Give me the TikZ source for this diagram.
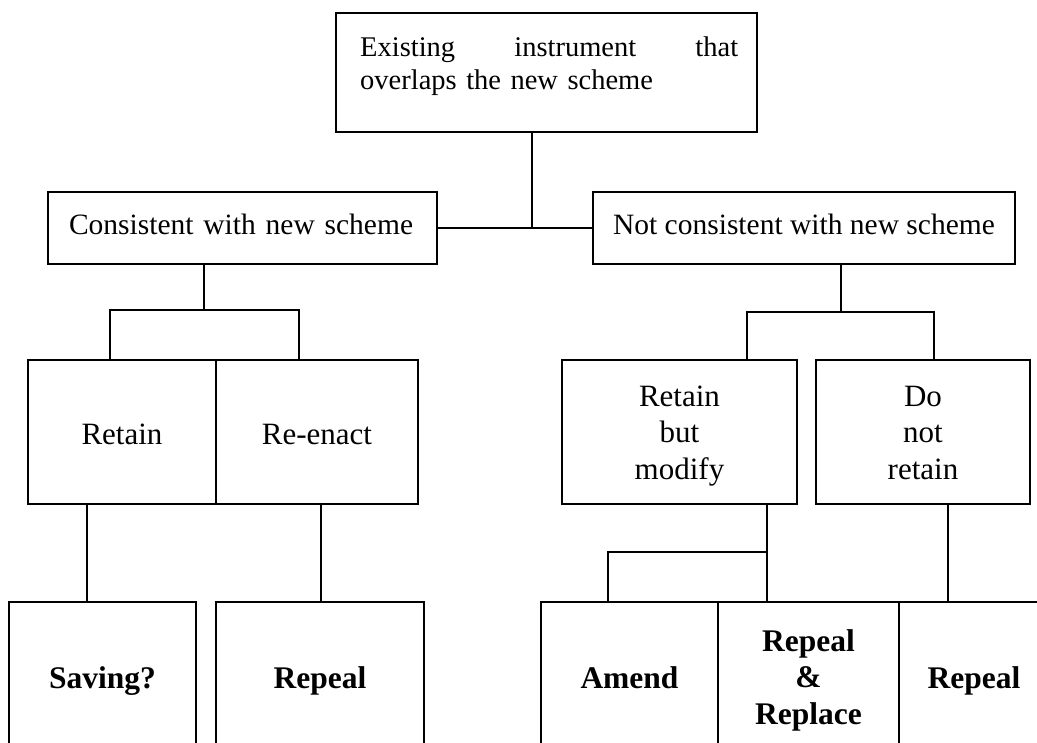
\documentclass[tikz,border=0pt]{standalone}
\usepackage{fontspec}
\setmainfont{Liberation Serif}
\newcommand{\firststrut}{\rule{0pt}{28.5pt}}
\begin{document}
\begin{tikzpicture}[x=1pt,y=-1pt,
  box/.style={draw, line width=1.8pt, inner sep=0pt, align=center,
              font=\fontsize{31}{36.5}\selectfont},
  wide/.style={box, font=\fontsize{29.5}{34}\selectfont, text height=20pt, text depth=6pt},
  single/.style={text height=32pt, text depth=6pt},
  bbox/.style={box, font=\fontsize{31.5}{36.5}\selectfont\bfseries},
  bsingle/.style={text height=22pt, text depth=6pt},
  conn/.style={line width=1.8pt},
  txt/.style={inner sep=0pt}]
\useasboundingbox (0,0) rectangle (1037,743);
\clip (0,0) rectangle (1037,743);

% level 0
\node[box, minimum width=421pt, minimum height=119pt] (top) at (546.5,72.5) {};
\node[txt, anchor=base west, font=\fontsize{28.5}{33}\selectfont, text width=378pt, align=left] (toptext) at (360,57)
  {\hbox to 378pt{Existing\hfill instrument\hfill that}\\overlaps the new scheme};

% level 1
\node[wide, minimum width=389pt, minimum height=72pt, inner xsep=21pt, text width=347pt, align=left] (cons) at (242.5,228)
  {\makebox[347pt][l]{Consistent with new scheme}};
\node[wide, minimum width=422pt, minimum height=72pt] (notc) at (804,228) {Not consistent with new scheme};

% level 2
\node[box, single, minimum width=188pt, minimum height=144pt] (retain) at (122,432) {Retain};
\node[box, single, minimum width=202pt, minimum height=144pt] (reenact) at (317,432) {Re-enact};
\node[box, minimum width=235pt, minimum height=144pt] (rbm) at (679.5,432) {\firststrut Retain\\but\\modify};
\node[box, minimum width=214pt, minimum height=144pt] (dnr) at (923,432) {\firststrut Do\\not\\retain\vphantom{y}};

% level 3
\node[bbox, bsingle, minimum width=187pt, minimum height=156pt] (saving) at (102.5,680) {Saving?};
\node[bbox, bsingle, minimum width=208pt, minimum height=156pt] (repealA) at (320,680) {Repeal};
\node[bbox, bsingle, minimum width=177pt, minimum height=156pt] (amend) at (629.5,680) {Amend};
\node[bbox, minimum width=181pt, minimum height=156pt] (rr) at (808.5,680) {Repeal\\\&\\Replace};
\node[bbox, bsingle, minimum width=150pt, minimum height=156pt] (repealB) at (974,680) {Repeal};

% junction coordinates
\coordinate (j1) at (532,228);
\coordinate (j2) at (204,310);
\coordinate (a1) at (110,310);
\coordinate (a2) at (299,310);
\coordinate (j3) at (841,312);
\coordinate (b1) at (747,312);
\coordinate (b2) at (934,312);
\coordinate (c1) at (87,0);
\coordinate (c2) at (321,0);
\coordinate (d1) at (767,552);
\coordinate (d0) at (608,552);
\coordinate (e1) at (948,0);

% connectors
\draw[conn] (top.south -| j1) -- (j1);
\draw[conn] (cons.east) -- (notc.west);
\draw[conn] (cons.south -| j2) -- (j2);
\draw[conn] (retain.north -| a1) -- (a1) -- (a2) -- (reenact.north -| a2);
\draw[conn] (notc.south -| j3) -- (j3);
\draw[conn] (rbm.north -| b1) -- (b1) -- (b2) -- (dnr.north -| b2);
\draw[conn] (retain.south -| c1) -- (saving.north -| c1);
\draw[conn] (reenact.south -| c2) -- (repealA.north -| c2);
\draw[conn] (rbm.south -| d1) -- (rr.north -| d1);
\draw[conn] (d1) -- (d0) -- (amend.north -| d0);
\draw[conn] (dnr.south -| e1) -- (repealB.north -| e1);
\end{tikzpicture}
\end{document}
